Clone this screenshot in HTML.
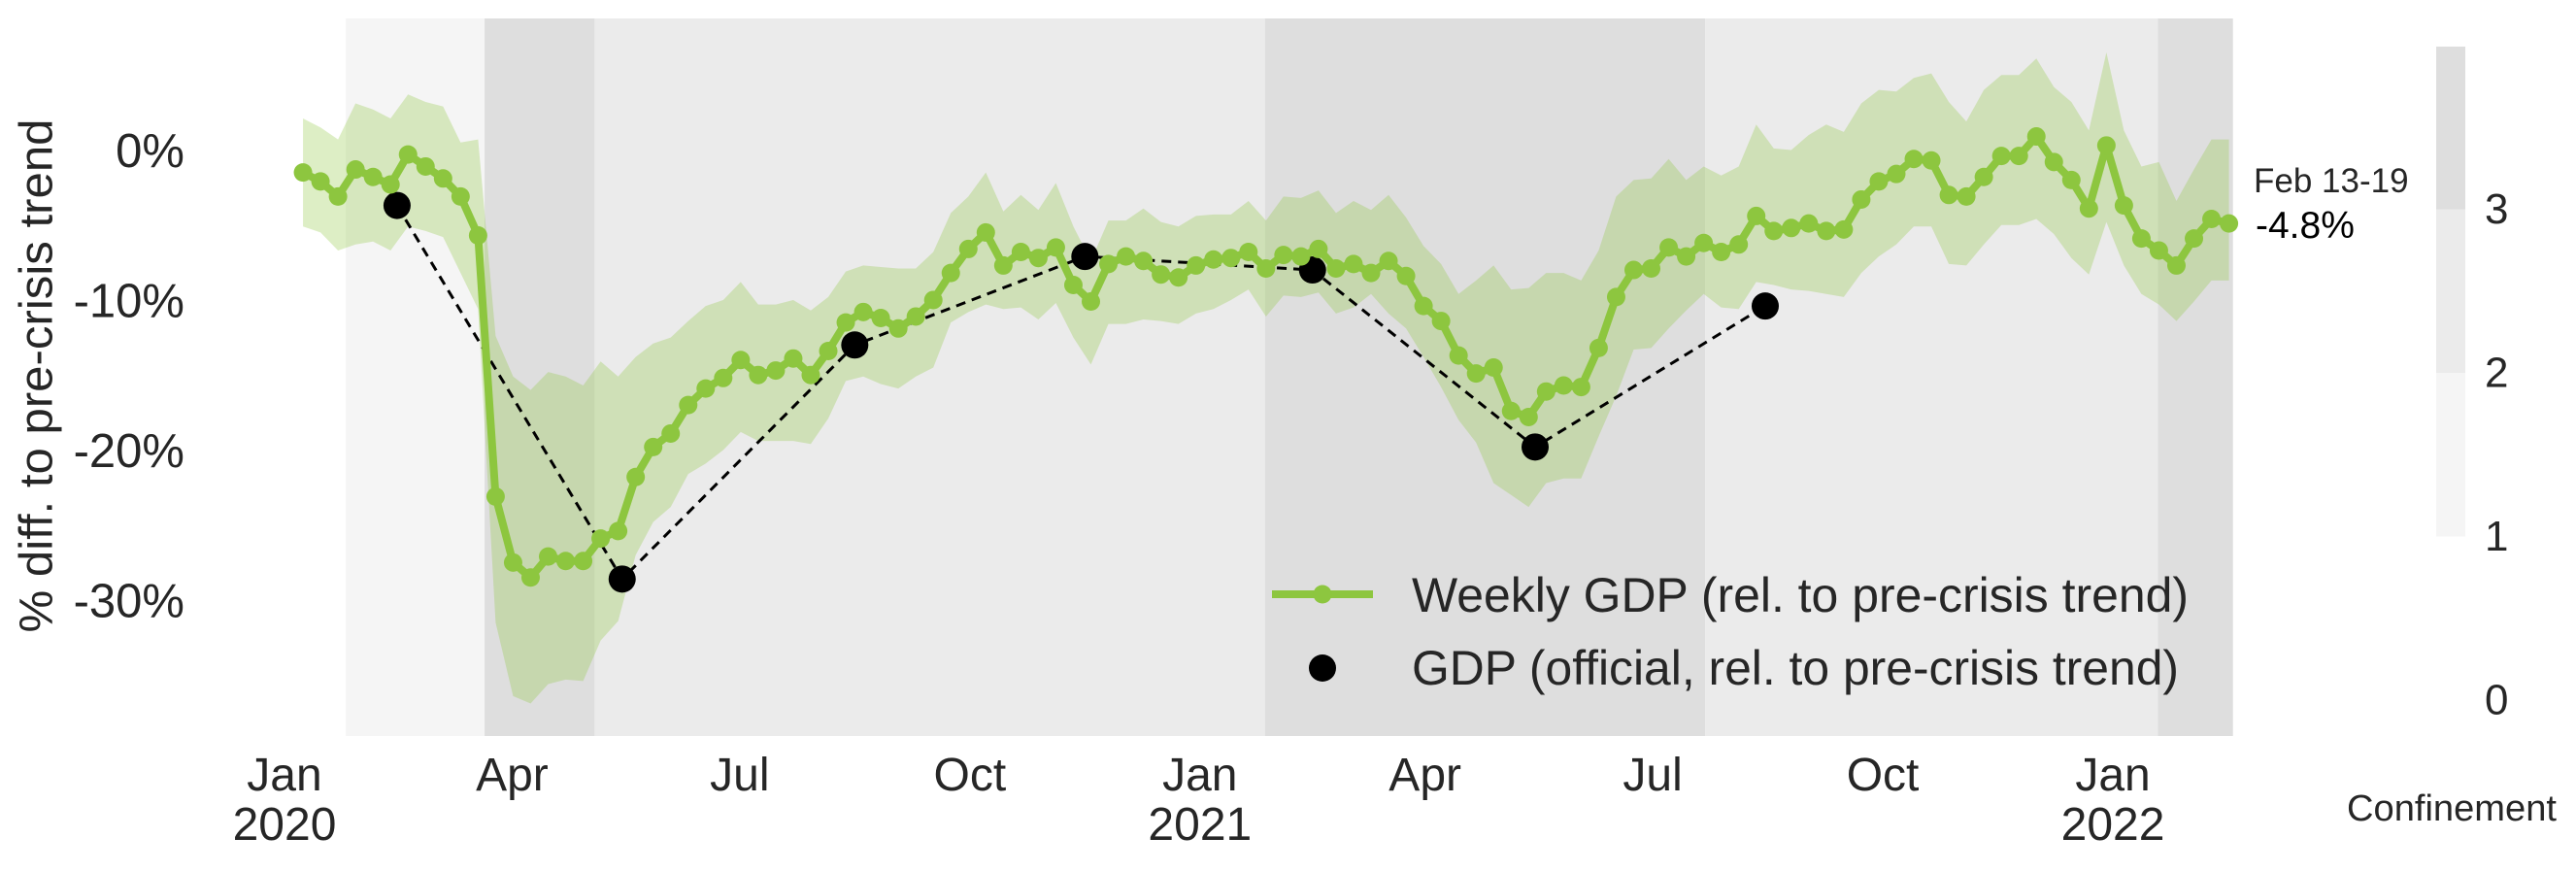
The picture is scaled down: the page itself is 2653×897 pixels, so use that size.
<!DOCTYPE html>
<html><head><meta charset="utf-8">
<style>
html,body{margin:0;padding:0;background:#fff;}
svg{display:block;font-family:"Liberation Sans",Arial,sans-serif;}
</style></head>
<body>
<svg id="chart" width="2653" height="897" viewBox="0 0 2653 897" xmlns="http://www.w3.org/2000/svg">
  <g id="bands"></g>
  <g id="ribbon"></g>
  <g id="official"></g>
  <g id="weekly"></g>
  <g id="yaxis"></g>
  <g id="xaxis"></g>
  <text x="38" y="387" font-size="48" fill="#262626" text-anchor="middle" dominant-baseline="central" transform="rotate(-90 38 387)" textLength="529" lengthAdjust="spacingAndGlyphs">% diff. to pre-crisis trend</text>
  <g>
    <g>
      <line x1="1310" y1="612" x2="1414" y2="612" stroke="#8dc63f" stroke-width="8"/>
      <circle cx="1362" cy="612" r="9.5" fill="#8dc63f"/>
      <text x="1454" y="630" font-size="50" fill="#262626" textLength="800" lengthAdjust="spacingAndGlyphs">Weekly GDP (rel. to pre-crisis trend)</text>
    </g>
    <g>
      <circle cx="1362" cy="688" r="14" fill="#000"/>
      <text x="1454" y="705" font-size="50" fill="#262626" textLength="790" lengthAdjust="spacingAndGlyphs">GDP (official, rel. to pre-crisis trend)</text>
    </g>
  </g>
  <text x="2321" y="198" font-size="35" fill="#262626">Feb 13-19</text>
  <text x="2323" y="245" font-size="39" fill="#000">-4.8%</text>
  <g id="cbar"></g>
  <text x="2525" y="845" font-size="38" fill="#262626" text-anchor="middle" textLength="216" lengthAdjust="spacingAndGlyphs">Confinement</text>
</svg>
<script>
// ---- data ----
const weeklyFirstDay = 7.4; // days since 2020-01-01 of first weekly point
const weeklyValues = [-1.4,-2.0,-3.0,-1.2,-1.7,-2.2,-0.2,-1.0,-1.8,-3.0,-5.6,-23.0,-27.4,-28.4,-27.0,-27.3,-27.3,-25.8,-25.3,-21.7,-19.7,-18.8,-16.9,-15.8,-15.1,-13.9,-14.9,-14.6,-13.8,-14.9,-13.3,-11.4,-10.7,-11.1,-11.8,-11.0,-9.9,-8.1,-6.5,-5.4,-7.6,-6.7,-7.1,-6.4,-8.9,-10.0,-7.5,-7.0,-7.3,-8.2,-8.4,-7.6,-7.2,-7.1,
-6.7,-7.8,-6.9,-7.0,-6.5,-7.8,-7.5,-8.1,-7.3,-8.3,-10.3,-11.3,-13.6,-14.8,-14.4,-17.3,-17.7,-16.0,-15.6,-15.7,-13.1,-9.7,-7.9,-7.8,-6.4,-7.0,-6.1,-6.7,-6.2,-4.3,-5.3,-5.1,-4.8,-5.3,-5.2,-3.2,-2.0,-1.5,-0.5,-0.6,-2.9,-3.0,-1.7,-0.3,-0.3,1.0,-0.7,-1.9,-3.8,0.4,-3.6,-5.8,-6.6,-7.6,-5.8,-4.5,-4.8];
const weeklyUpper = [2.2,1.6,0.8,3.2,2.8,2.2,3.8,3.3,3.0,0.6,0.8,-12.3,-15.0,-15.9,-14.7,-15.0,-15.6,-14.0,-15.0,-13.7,-12.8,-12.4,-11.3,-10.3,-9.9,-8.7,-10.2,-10.2,-9.9,-10.6,-9.7,-8.0,-7.6,-7.7,-7.8,-7.8,-6.7,-4.1,-3.0,-1.4,-4.0,-2.9,-3.9,-2.1,-5.0,-7.3,-4.6,-4.6,-3.8,-4.7,-5.0,-4.3,-4.2,-4.2,
-3.3,-4.6,-3.0,-3.1,-2.6,-4.1,-3.3,-3.9,-2.9,-4.4,-6.3,-7.5,-9.5,-8.6,-7.6,-9.2,-9.1,-8.1,-8.1,-8.6,-6.6,-3.0,-1.9,-1.8,-0.5,-1.9,-1.0,-1.6,-1.0,1.8,0.2,0.1,1.1,1.8,1.3,3.2,4.1,4.0,4.9,5.2,3.3,2.0,4.1,5.1,5.1,6.2,4.3,3.3,1.4,6.6,1.4,-1.0,-0.7,-3.3,-1.2,0.8,0.8];
const weeklyLower = [-5.0,-5.4,-6.6,-6.2,-6.0,-6.6,-5.0,-5.3,-5.7,-8.1,-10.5,-31.4,-36.3,-36.8,-35.5,-35.2,-35.3,-32.6,-31.3,-26.9,-24.7,-23.7,-21.5,-20.8,-19.9,-18.7,-19.3,-19.3,-19.3,-19.5,-17.8,-15.3,-15.0,-15.5,-15.8,-15.0,-14.4,-11.4,-10.7,-10.2,-10.5,-10.4,-11.2,-10.1,-12.4,-14.2,-11.5,-11.5,-11.2,-11.3,-11.5,-10.8,-10.5,-9.9,
-9.2,-11.0,-9.6,-9.7,-9.4,-10.8,-10.4,-9.5,-10.8,-11.8,-13.7,-15.7,-17.9,-19.4,-22.1,-22.9,-23.7,-22.1,-21.8,-21.8,-19.0,-16.3,-13.2,-13.1,-11.8,-10.6,-9.5,-10.4,-10.5,-8.7,-8.9,-9.2,-9.3,-9.5,-9.7,-8.1,-7.0,-6.2,-5.0,-5.0,-7.5,-7.6,-6.2,-4.9,-4.9,-4.5,-5.5,-7.1,-8.2,-4.7,-7.6,-9.5,-10.2,-11.3,-10.0,-8.6,-8.6];
const officialDays = [45,135,228,320,411,500,592];
const officialValues = [-3.6,-28.5,-12.9,-7.0,-7.9,-19.7,-10.3];
const bandStartDays = [24.5,80,124,392,568,749];
const bandEndDays = [80,124,392,568,749,779];
const bandLevels = [1,3,2,3,2,3];
const yTicks = [0,-10,-20,-30];
const yTickLabels = ["0%","-10%","-20%","-30%"];
const xTickDays = [0,91,182,274,366,456,547,639,731];
const xTickMonths = ["Jan","Apr","Jul","Oct","Jan","Apr","Jul","Oct","Jan"];
const xTickYears = ["2020","","","","2021","","","","2022"];
const cbarLevels = [0,1,2,3];

// ---- scales ----
const NS = "http://www.w3.org/2000/svg";
function xScale(d){ return 293 + 2.576*d; }
function yScale(v){ return 156 - 15.45*v; }
const plotTop = 19, plotBottom = 758;
const levelColor = {1:"#f5f5f5",2:"#ebebeb",3:"#dedede"};
function mk(tag, attrs, parent){ const e=document.createElementNS(NS,tag); for(const k in attrs) e.setAttribute(k,attrs[k]); parent.appendChild(e); return e; }

// bands
const gB = document.getElementById("bands");
bandLevels.forEach((lv,i)=>{
  const x0=xScale(bandStartDays[i]), x1=xScale(bandEndDays[i]);
  const r = mk("rect",{x:x0,y:plotTop,width:x1-x0,height:plotBottom-plotTop,fill:levelColor[lv]},gB);
  
  
});

// ribbon
const xs = weeklyValues.map((v,i)=>xScale(weeklyFirstDay+7*i));
let d = "M"+xs.map((x,i)=>x+","+yScale(weeklyUpper[i])).join(" L");
for(let i=xs.length-1;i>=0;i--) d += " L"+xs[i]+","+yScale(weeklyLower[i]);
d += " Z";
const rib = mk("path",{d:d,fill:"#8dc63f","fill-opacity":"0.3"},document.getElementById("ribbon"));



// official
const gO = document.getElementById("official");
const op = mk("polyline",{points:officialDays.map((dd,i)=>xScale(dd)+","+yScale(officialValues[i])).join(" "),fill:"none",stroke:"#000","stroke-width":"3","stroke-dasharray":"10,7"},gO);



// weekly
const gW = document.getElementById("weekly");
const wl = mk("polyline",{points:xs.map((x,i)=>x+","+yScale(weeklyValues[i])).join(" "),fill:"none",stroke:"#8dc63f","stroke-width":"8","stroke-linejoin":"round"},gW);


xs.forEach((x,i)=>{
  const c = mk("circle",{cx:x,cy:yScale(weeklyValues[i]),r:9.5,fill:"#8dc63f"},gW);
  
  
});
officialDays.forEach((dd,i)=>{
  const c = mk("circle",{cx:xScale(dd),cy:yScale(officialValues[i]),r:14,fill:"#000"},gO);
  
  
});

// y axis
const gY = document.getElementById("yaxis");
yTicks.forEach((v,i)=>{
  const t = mk("text",{x:190,y:yScale(v),"font-size":"49",fill:"#262626","text-anchor":"end","dominant-baseline":"central"},gY);
  t.textContent = yTickLabels[i];
  
  
});

// x axis
const gX = document.getElementById("xaxis");
xTickDays.forEach((dd,i)=>{
  const t = mk("text",{x:xScale(dd),y:814,"font-size":"48",fill:"#262626","text-anchor":"middle"},gX);
  t.textContent = xTickMonths[i];
  
  
  if(xTickYears[i]){
    const t2 = mk("text",{x:xScale(dd),y:865,"font-size":"48",fill:"#262626","text-anchor":"middle"},gX);
    t2.textContent = xTickYears[i];
    
    
  }
});

// colorbar
const gC = document.getElementById("cbar");
function cbY(l){ return 721 - 168.5*l; }
[1,2,3].forEach(lv=>{
  const top = lv===3 ? 48 : cbY(lv+1);
  const r = mk("rect",{x:2509,y:top,width:30,height:cbY(lv)-top,fill:levelColor[lv]},gC);
  
  
});
cbarLevels.forEach(lv=>{
  const t = mk("text",{x:2559,y:cbY(lv),"font-size":"44",fill:"#262626","dominant-baseline":"central"},gC);
  t.textContent = String(lv);
  
  
});
</script>
</body></html>
